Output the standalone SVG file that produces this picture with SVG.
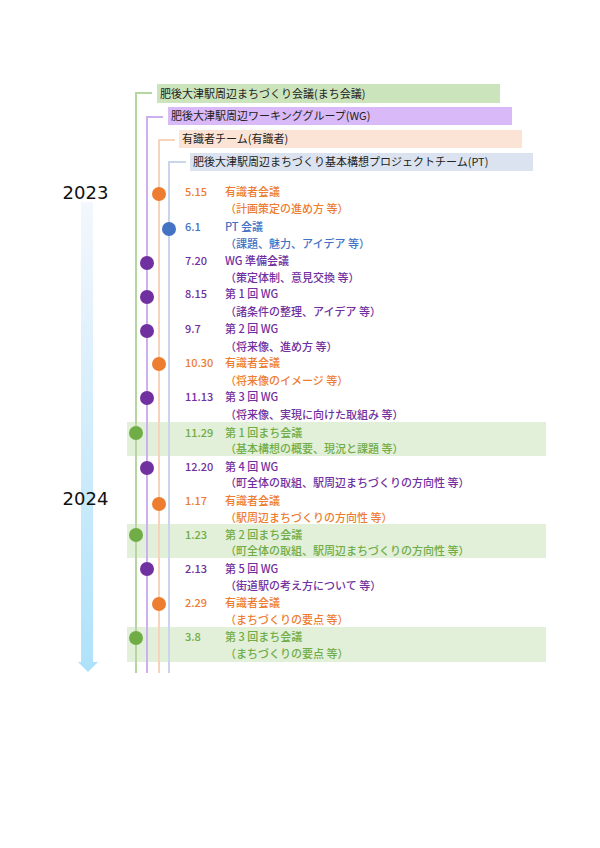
<svg xmlns="http://www.w3.org/2000/svg" width="600" height="848" viewBox="0 0 600 848">
<style>
text{font-family:"Noto Sans CJK JP","Noto Sans",sans-serif;font-size:11px;font-weight:500}
.hd{fill:#222;font-weight:400}
.yr{font-family:"DejaVu Sans",sans-serif;font-size:18px;fill:#111;text-anchor:middle;font-weight:400}
.band{fill:#e2efd9}
.o{fill:#ed7d31}.b{fill:#4472c4}.p{fill:#7030a0}.g{fill:#70ad47}
.vl{stroke-width:2;fill:none}
</style>
<defs>
<linearGradient id="ag" x1="0" y1="0" x2="0" y2="1">
<stop offset="0" stop-color="#f4f7fd"/>
<stop offset="1" stop-color="#aee2fa"/>
</linearGradient>
</defs>
<rect width="600" height="848" fill="#fff"/>
<g id="bands">
<rect class="band" x="127" y="422" width="419" height="34"/>
<rect class="band" x="127" y="524" width="419" height="34"/>
<rect class="band" x="127" y="627" width="419" height="35"/>
</g>
<g id="arrow">
<path d="M81 202 H93 V662 H98 L88 672 L78 662 H81 Z" fill="url(#ag)"/>
</g>
<text class="yr" x="85.5" y="199">2023</text>
<text class="yr" x="85.5" y="505">2024</text>
<g id="connectors">
<path class="vl" stroke="#b5d6a0" d="M136 673 V93 H152"/>
<path class="vl" stroke="#cdb0f2" d="M147 673 V117 H163"/>
<path class="vl" stroke="#f8d3bb" d="M159 673 V140 H175"/>
<path class="vl" stroke="#c9d5ec" d="M169 673 V162 H186"/>
</g>
<g id="header-machi"><rect x="157" y="84" width="343" height="19" fill="#cce4bc"/><text class="hd" x="160" y="97.5">肥後大津駅周辺まちづくり会議(まち会議)</text></g>
<g id="header-wg"><rect x="168" y="107" width="344" height="18" fill="#d9b9f7"/><text class="hd" x="171" y="120">肥後大津駅周辺ワーキンググループ(WG)</text></g>
<g id="header-expert"><rect x="179" y="130" width="343" height="18" fill="#fbe4d6"/><text class="hd" x="182" y="143">有識者チーム(有識者)</text></g>
<g id="header-pt"><rect x="190" y="153" width="343" height="18" fill="#dce3f0"/><text class="hd" x="193" y="166">肥後大津駅周辺まちづくり基本構想プロジェクトチーム(PT)</text></g>
<g id="e1"><circle class="o" cx="159" cy="194" r="7"/><text class="o" x="185" y="196">5.15</text><text class="o" x="225" y="196">有識者会議</text><text class="o" x="225" y="213">（計画策定の進め方 等）</text></g>
<g id="e2"><circle class="b" cx="169" cy="229" r="7"/><text class="b" x="185" y="231">6.1</text><text class="b" x="225" y="231">PT 会議</text><text class="b" x="225" y="248">（課題、魅力、アイデア 等）</text></g>
<g id="e3"><circle class="p" cx="147" cy="263" r="7"/><text class="p" x="185" y="265">7.20</text><text class="p" x="225" y="265">WG 準備会議</text><text class="p" x="225" y="282">（策定体制、意見交換 等）</text></g>
<g id="e4"><circle class="p" cx="147" cy="297" r="7"/><text class="p" x="185" y="298">8.15</text><text class="p" x="225" y="298">第 1 回 WG</text><text class="p" x="225" y="316">（諸条件の整理、アイデア 等）</text></g>
<g id="e5"><circle class="p" cx="147" cy="331" r="7"/><text class="p" x="185" y="333">9.7</text><text class="p" x="225" y="333">第 2 回 WG</text><text class="p" x="225" y="351">（将来像、進め方 等）</text></g>
<g id="e6"><circle class="o" cx="159" cy="364" r="7"/><text class="o" x="185" y="367">10.30</text><text class="o" x="225" y="367">有識者会議</text><text class="o" x="225" y="385">（将来像のイメージ 等）</text></g>
<g id="e7"><circle class="p" cx="147" cy="398" r="7"/><text class="p" x="185" y="401">11.13</text><text class="p" x="225" y="401">第 3 回 WG</text><text class="p" x="225" y="419">（将来像、実現に向けた取組み 等）</text></g>
<g id="e8"><circle class="g" cx="136" cy="433" r="7"/><text class="g" x="185" y="437">11.29</text><text class="g" x="225" y="437">第 1 回まち会議</text><text class="g" x="225" y="453">（基本構想の概要、現況と課題 等）</text></g>
<g id="e9"><circle class="p" cx="147" cy="468" r="7"/><text class="p" x="185" y="471">12.20</text><text class="p" x="225" y="471">第 4 回 WG</text><text class="p" x="225" y="487">（町全体の取組、駅周辺まちづくりの方向性 等）</text></g>
<g id="e10"><circle class="o" cx="159" cy="504" r="7"/><text class="o" x="185" y="505">1.17</text><text class="o" x="225" y="505">有識者会議</text><text class="o" x="225" y="522">（駅周辺まちづくりの方向性 等）</text></g>
<g id="e11"><circle class="g" cx="136" cy="535" r="7"/><text class="g" x="185" y="539">1.23</text><text class="g" x="225" y="539">第 2 回まち会議</text><text class="g" x="225" y="555">（町全体の取組、駅周辺まちづくりの方向性 等）</text></g>
<g id="e12"><circle class="p" cx="147" cy="569" r="7"/><text class="p" x="185" y="573">2.13</text><text class="p" x="225" y="573">第 5 回 WG</text><text class="p" x="225" y="590">（街道駅の考え方について 等）</text></g>
<g id="e13"><circle class="o" cx="159" cy="604" r="7"/><text class="o" x="185" y="607">2.29</text><text class="o" x="225" y="607">有識者会議</text><text class="o" x="225" y="624">（まちづくりの要点 等）</text></g>
<g id="e14"><circle class="g" cx="136" cy="638" r="7"/><text class="g" x="185" y="641">3.8</text><text class="g" x="225" y="641">第 3 回まち会議</text><text class="g" x="225" y="658">（まちづくりの要点 等）</text></g>
</svg>
